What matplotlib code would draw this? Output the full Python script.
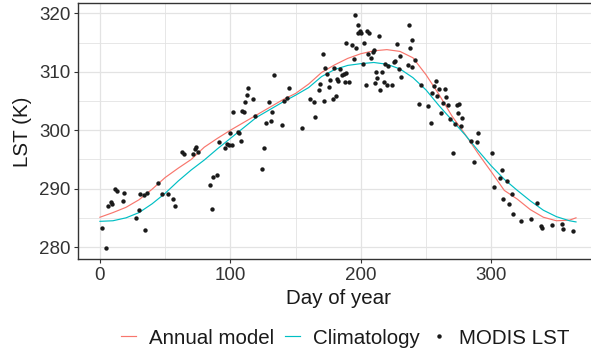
import matplotlib
matplotlib.use('Agg')
import matplotlib.pyplot as plt
from matplotlib.lines import Line2D

plt.rcParams['font.family'] = ['Liberation Sans', 'DejaVu Sans']

# MODIS LST observations (day of year, K)
obsDay = [1.3, 4.6, 5.9, 8.4, 9.4, 11.7, 12.8, 17.6, 18.6, 27.8, 29.7, 30.9, 33.9, 35.8, 34.7,
          44.7, 47.7, 51.9, 55.7, 57.7, 62.8, 64.6, 71.5, 72.8, 73.6, 74.9, 84.5, 85.8, 86.8, 89.9,
          91.0, 95.6, 97.1, 98.9, 100.9, 99.6, 101.7, 105.7, 106.7, 107.8, 108.8, 110.3, 111.6, 112.9,
          113.9, 117.5, 118.8, 123.9, 125.7, 127.7, 130.8, 129.7, 132.3, 133.6, 139.7, 141.0, 143.1,
          145.1, 154.8, 160.9, 163.8, 164.8, 167.6, 168.8, 170.7, 171.6, 172.6, 175.7, 176.5, 178.8,
          180.8, 179.5, 181.6, 182.6, 183.7, 185.7, 187.0, 187.7, 190.8, 189.0, 188.7, 193.6, 194.9,
          196.7, 195.6, 197.7, 199.2, 200.0, 198.2, 201.8, 202.8, 203.8, 204.6, 206.4, 205.6, 207.7,
          209.0, 210.0, 210.7, 212.0, 212.8, 213.8, 214.6, 215.9, 217.9, 219.9, 218.6, 220.5, 224.0,
          225.3, 226.3, 227.6, 229.1, 229.9, 230.9, 236.0, 236.8, 237.8, 238.9, 239.6, 241.9, 244.7,
          246.0, 251.9, 253.9, 254.6, 256.2, 257.7, 258.5, 260.0, 261.8, 263.1, 264.9, 265.7, 266.9,
          268.7, 270.7, 272.6, 273.6, 275.6, 274.9, 276.6, 277.9, 284.8, 286.8, 288.9, 290.2, 300.9,
          301.9, 306.5, 308.0, 309.0, 311.9, 313.6, 315.7, 317.0, 322.8, 330.8, 334.9, 337.9, 339.2,
          346.9, 354.0, 354.8, 362.7, 174.2]
obsLST = [283.2, 279.8, 287.1, 287.7, 287.3, 289.9, 289.6, 287.8, 289.3, 284.9, 286.3, 289.1, 288.9, 289.2, 283.0,
          291.0, 289.1, 289.0, 288.2, 287.1, 296.2, 296.0, 295.9, 296.8, 297.1, 296.2, 290.6, 286.5, 292.0, 292.4,
          298.0, 296.9, 297.6, 297.5, 297.5, 299.5, 303.1, 299.7, 299.6, 298.1, 303.3, 303.1, 304.9, 306.0,
          307.3, 305.4, 302.4, 293.4, 297.0, 301.3, 301.6, 304.8, 303.2, 309.4, 300.9, 305.0, 305.6,
          307.3, 300.4, 305.3, 304.8, 302.3, 306.9, 308.0, 313.0, 305.0, 310.6, 307.4, 308.6, 305.3,
          305.8, 310.6, 308.7, 308.4, 310.5, 309.4, 309.7, 308.3, 308.3, 309.8, 315.0, 314.6, 312.2,
          314.0, 319.8, 318.0, 317.0, 316.6, 316.7, 311.4, 314.9, 307.7, 317.0, 316.7, 313.0, 312.3,
          313.4, 313.7, 308.1, 309.9, 308.9, 316.2, 306.9, 310.0, 308.3, 307.8, 311.4, 311.0, 307.8,
          311.7, 311.9, 314.8, 310.4, 312.7, 309.1, 311.1, 318.1, 314.1, 315.5, 310.9, 312.0, 304.5,
          307.7, 304.1, 301.3, 306.4, 307.6, 308.5, 305.8, 307.0, 303.0, 304.7, 307.0, 305.7, 304.3,
          302.0, 296.1, 301.1, 304.3, 304.5, 302.9, 300.8, 302.1, 298.1, 294.5, 298.0, 299.5, 296.1,
          290.3, 291.9, 293.2, 288.2, 291.3, 287.4, 289.0, 285.6, 284.4, 284.8, 287.6, 283.6, 283.2,
          283.8, 283.9, 283.1, 282.7, 309.6]

# fitted curves
curveDay = [0, 10, 20, 30, 40, 50, 60, 70, 80, 90, 100, 110, 120, 130, 140, 150, 160, 170, 180,
            190, 200, 210, 220, 230, 240, 250, 260, 270, 280, 290, 300, 310, 320, 330, 340, 350, 360, 365]
annualModel = [285.1, 285.9, 286.8, 288.1, 289.9, 291.9, 293.5, 295.0, 297.1, 298.6, 300.0, 301.3, 302.6,
               303.9, 305.2, 306.3, 307.9, 309.9, 311.2, 312.3, 313.1, 313.6, 313.8, 313.5, 312.4, 309.5,
               306.1, 302.4, 299.3, 296.0, 292.9, 289.7, 288.2, 286.4, 285.1, 284.5, 284.6, 285.0]
climatology = [284.4, 284.5, 285.0, 285.9, 287.4, 289.2, 291.3, 293.2, 294.9, 296.8, 298.6, 300.4, 302.2,
               303.5, 304.8, 306.0, 307.3, 309.2, 310.4, 311.1, 311.4, 311.6, 311.3, 310.5, 309.0, 306.9,
               304.2, 301.7, 299.2, 296.5, 293.9, 291.6, 289.7, 287.9, 286.3, 285.2, 284.5, 284.3]

RED = '#F8766D'
TEAL = '#00BFC4'
TICKSIZE = 13.5
TITLESIZE = 14.8

fig = plt.figure(figsize=(5.91, 3.53), dpi=100)
ax = fig.add_axes([77.5 / 591, (353 - 259.3) / 353, (600 - 77.5) / 591, (259.3 - 3.5) / 353])

ax.plot(curveDay, annualModel, color=RED, lw=0.85, zorder=2)
ax.plot(curveDay, climatology, color=TEAL, lw=0.85, zorder=2)
ax.scatter(obsDay, obsLST, s=10, color='#1a1a1a', linewidths=0, zorder=3)

ax.set_xlim(-17.2, 383.4)
ax.set_ylim(277.9, 321.7)
ax.set_xticks([0, 100, 200, 300])
ax.set_yticks([280, 290, 300, 310, 320])
ax.set_xticks([50, 150, 250, 350], minor=True)
ax.set_yticks([285, 295, 305, 315], minor=True)
ax.grid(which='major', color='#E3E3E3', lw=0.9)
ax.grid(which='minor', color='#E3E3E3', lw=0.6)
ax.set_axisbelow(True)
ax.tick_params(which='major', length=3.2, width=0.8, color='#333333', labelsize=TICKSIZE,
               labelcolor='#333333', pad=2)
ax.tick_params(which='minor', length=0)
for s in ax.spines.values():
    s.set_color('#333333')
    s.set_linewidth(1.0)

ax.set_xlabel('Day of year', fontsize=TITLESIZE, color='#1a1a1a', labelpad=4)
ax.set_ylabel('LST (K)', fontsize=TITLESIZE, color='#1a1a1a', labelpad=5)

handles = [Line2D([], [], color=RED, lw=0.85),
           Line2D([], [], color=TEAL, lw=0.85),
           Line2D([], [], ls='none', marker='o', ms=3.2, color='#1a1a1a', mew=0)]
fig.legend(handles, ['Annual model', 'Climatology', 'MODIS LST'], loc='center',
           bbox_to_anchor=(345 / 591, 1 - 338 / 353), ncol=3, frameon=False, fontsize=TITLESIZE,
           handlelength=0.75, handletextpad=0.6, columnspacing=0.55, borderpad=0, labelcolor='#1a1a1a')

fig.savefig('out.png', dpi=100)
